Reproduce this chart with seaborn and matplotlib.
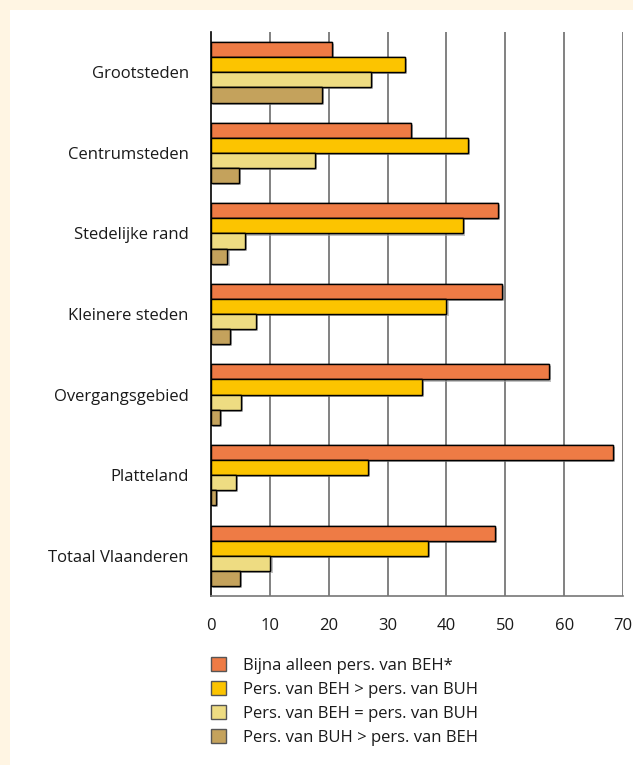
import numpy as np
import pandas as pd
import seaborn as sns
import matplotlib.pyplot as plt
import matplotlib.patheffects as pe
from matplotlib.patches import Rectangle
from matplotlib.ticker import FixedLocator

regions = ["Grootsteden", "Centrumsteden", "Stedelijke rand", "Kleinere steden",
           "Overgangsgebied", "Platteland", "Totaal Vlaanderen"]
series = ["Bijna alleen pers. van BEH*", "Pers. van BEH > pers. van BUH",
          "Pers. van BEH = pers. van BUH", "Pers. van BUH > pers. van BEH"]
bijna_alleen = [20.5, 34.0, 48.7, 49.5, 57.4, 68.3, 48.3]
beh_gt_buh = [32.9, 43.7, 42.8, 40.0, 35.9, 26.6, 36.9]
beh_eq_buh = [27.2, 17.7, 5.7, 7.6, 5.1, 4.2, 10.1]
buh_gt_beh = [18.8, 4.8, 2.8, 3.2, 1.5, 0.9, 4.9]
colors = ["#EE7B45", "#FCC400", "#EEDC82", "#C4A25C"]

df = pd.DataFrame({
    "Regio": regions * 4,
    "Reeks": np.repeat(series, len(regions)),
    "Waarde": bijna_alleen + beh_gt_buh + beh_eq_buh + buh_gt_beh,
})

sns.set_style("white")
plt.rcParams["font.family"] = ["Open Sans", "DejaVu Sans"]
plt.rcParams["font.size"] = 12
plt.rcParams["text.color"] = "#1a1a1a"
plt.rcParams["xtick.color"] = "#1a1a1a"
plt.rcParams["ytick.color"] = "#1a1a1a"

fig = plt.figure(figsize=(6.33, 7.65), dpi=100, facecolor="#FFF5E3")
fig.patches.append(Rectangle((10 / 633, 0), 1, 1 - 10 / 765, transform=fig.transFigure,
                             facecolor="white", edgecolor="none", zorder=-1))
ax = fig.add_axes([211 / 633, 1 - 596 / 765, 412 / 633, 564 / 765])

sns.barplot(data=df, y="Regio", x="Waarde", hue="Reeks", order=regions, hue_order=series,
            palette=colors, orient="h", width=0.75, edgecolor="black", linewidth=1,
            saturation=1, ax=ax, legend=True, zorder=3)

for p in ax.patches:
    p.set_path_effects([pe.withSimplePatchShadow(offset=(1.5, -1.5), shadow_rgbFace="#999999", alpha=0.6),
                        pe.Normal()])

ax.set_xlim(0, 70)
ax.set_ylim(len(regions) - 0.5, -0.5)
ax.set_xticks(range(0, 71, 10))
ax.set_xlabel("")
ax.set_ylabel("")
ax.set_facecolor("none")

for x in range(10, 71, 10):
    ax.axvline(x, color="#777777", lw=1.3, zorder=1)

for s in ["top", "right"]:
    ax.spines[s].set_visible(False)
ax.spines["left"].set_color("black")
ax.spines["left"].set_linewidth(1.2)
ax.spines["bottom"].set_color("#777777")
ax.spines["bottom"].set_linewidth(1.2)

ax.tick_params(axis="x", length=0, pad=16, labelsize=12)
ax.tick_params(axis="y", which="major", length=0, pad=16, labelsize=12)
ax.yaxis.set_minor_locator(FixedLocator(np.arange(-0.5, len(regions), 1.0)))
ax.tick_params(axis="y", which="minor", direction="in", length=9, width=1.2, color="#555555")

handles, labels = ax.get_legend_handles_labels()
ax.get_legend().remove()
leg = fig.legend(handles, labels, loc="upper left", bbox_to_anchor=(211 / 633, 1 - 657 / 765),
                 frameon=False, fontsize=12, handlelength=0.9, handleheight=0.9,
                 handletextpad=1.0, labelspacing=0.45, borderpad=0, borderaxespad=0)
for h in leg.legend_handles:
    h.set_path_effects([])
    h.set_edgecolor("#555555")
    h.set_linewidth(1)

fig.savefig("out.png", dpi=100, facecolor=fig.get_facecolor())
